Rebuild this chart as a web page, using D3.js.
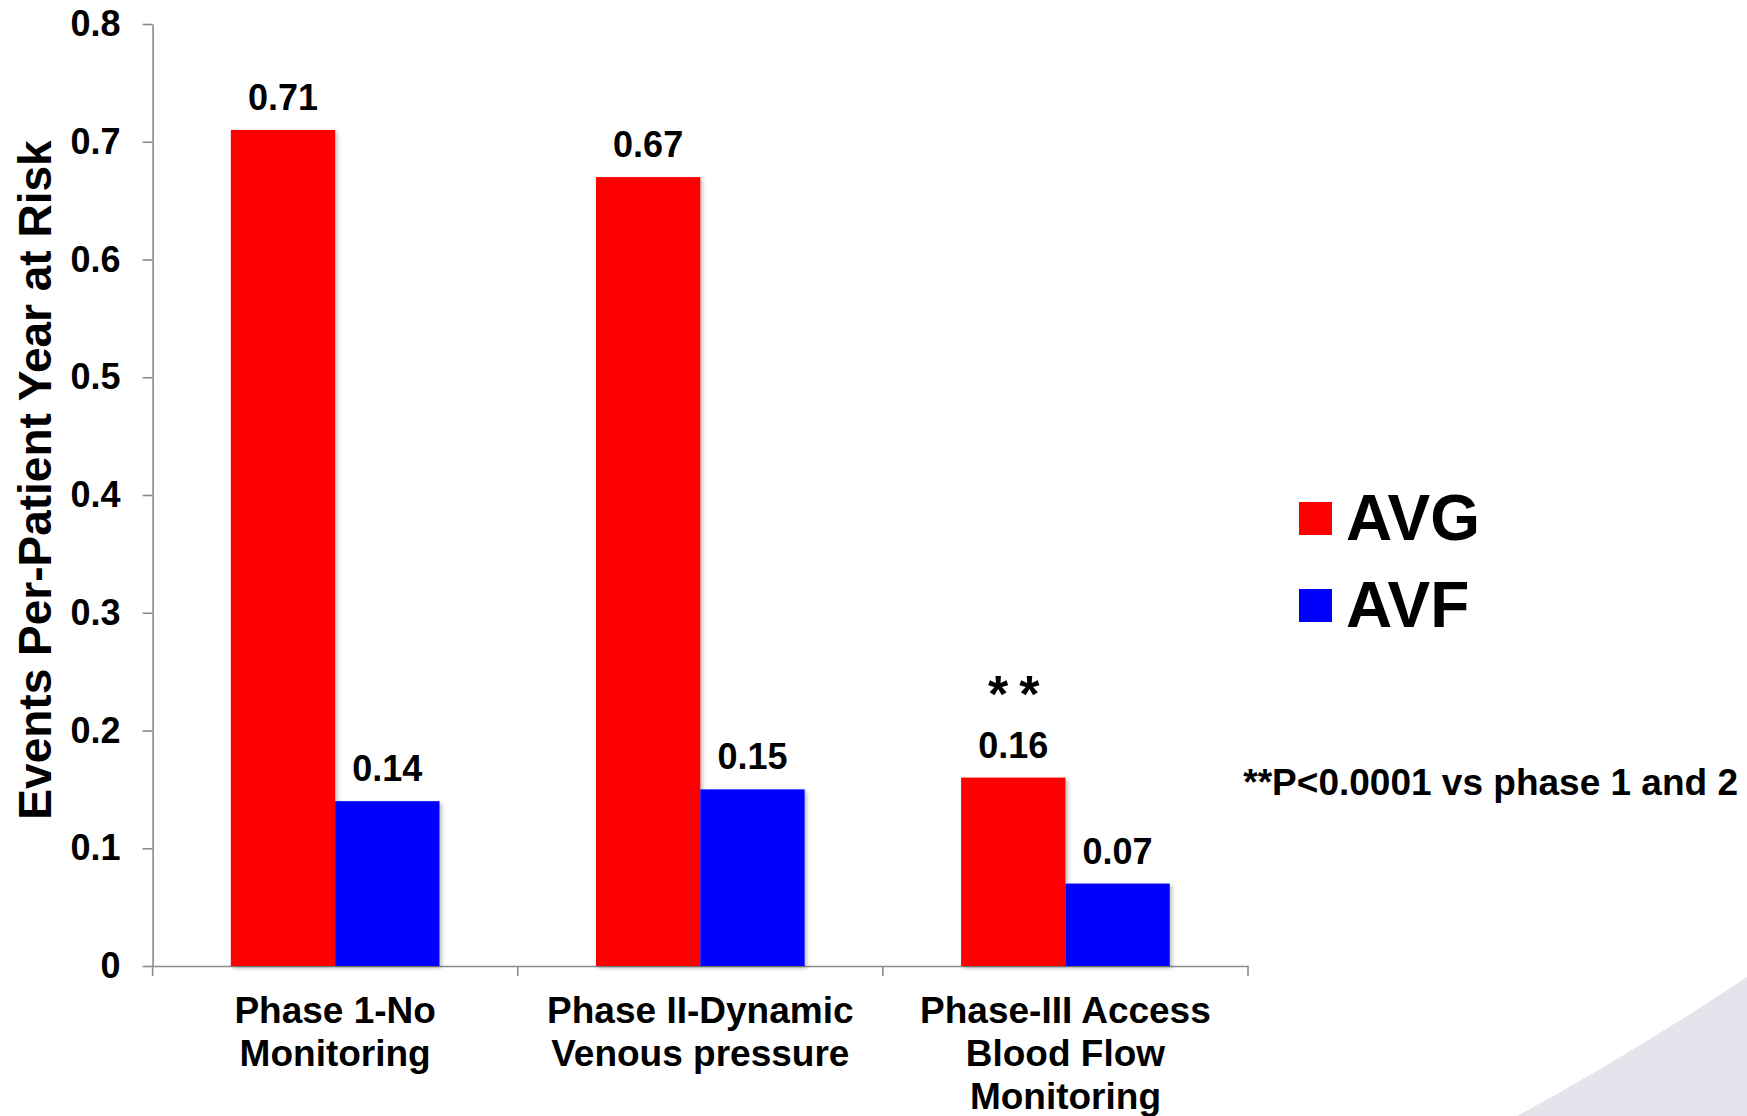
<!DOCTYPE html>
<html>
<head>
<meta charset="utf-8">
<script src="https://cdn.jsdelivr.net/npm/d3@7"></script>
<style>
  html, body { margin: 0; padding: 0; background: #ffffff; }
  svg { display: block; font-family: "Liberation Sans", Arial, sans-serif; font-weight: bold; }
</style>
</head>
<body>
<svg id="chart" width="1747" height="1116"></svg>
<script>
// Access events per patient-year, by monitoring phase
const categories = [
  ["Phase 1-No", "Monitoring"],
  ["Phase II-Dynamic", "Venous pressure"],
  ["Phase-III Access", "Blood Flow", "Monitoring"]
];
const seriesNames = ["AVG", "AVF"];
const seriesColors = ["#ff0000", "#0000ff"];
const avgValues = [0.71, 0.67, 0.16];
const avfValues = [0.14, 0.15, 0.07];
const yTicks = [0, 0.1, 0.2, 0.3, 0.4, 0.5, 0.6, 0.7, 0.8];
const yTitle = "Events Per-Patient Year at Risk";
const footnote = "**P<0.0001 vs phase 1 and 2";
const significance = ["", "", "**"];  // marker above the AVG bar of each phase

const svg = d3.select("#chart");
const axisColor = "#8a8a8a";

// decorative background swoosh, bottom right
svg.append("path")
  .attr("d", "M1517,1116 Q1628,1056 1747,977 L1747,1116 Z")
  .attr("fill", "#e4e4ec");

// soft shadow for the bars
const defs = svg.append("defs");
const f = defs.append("filter").attr("id", "barShadow")
  .attr("x", "-10%").attr("y", "-10%").attr("width", "130%").attr("height", "130%");
f.append("feDropShadow").attr("dx", 2).attr("dy", 2).attr("stdDeviation", 2)
  .attr("flood-color", "#000").attr("flood-opacity", 0.28);

const catKeys = categories.map(c => c.join(" "));
const x0 = d3.scaleBand().domain(catKeys).range([152.6, 1248]).padding(0);
const x1 = d3.scaleBand().domain(seriesNames).range([0, x0.bandwidth()])
  .paddingInner(0).paddingOuter(0.75);
const y = d3.scaleLinear().domain([0, 0.8]).range([966, 24]);
const color = d3.scaleOrdinal().domain(seriesNames).range(seriesColors);

const rows = catKeys.map((k, i) => ({
  key: k,
  sig: significance[i],
  values: [
    { series: "AVG", value: avgValues[i] },
    { series: "AVF", value: avfValues[i] }
  ]
}));

// y axis
const yAxis = svg.append("g").attr("transform", "translate(152.6,0)")
  .call(d3.axisLeft(y).tickValues(yTicks).tickSize(10).tickSizeOuter(0).tickPadding(22)
    .tickFormat(d => d === 0 ? "0" : d3.format(".1f")(d)));
yAxis.selectAll(".domain").attr("stroke", axisColor).attr("stroke-width", 1.6);
yAxis.selectAll(".tick line").attr("stroke", axisColor).attr("stroke-width", 1.6);
yAxis.selectAll(".tick text")
  .attr("fill", "#000").style("font-size", "36px").style("font-weight", "bold")
  .style("font-family", "'Liberation Sans', Arial, sans-serif");

// x axis line with ticks at category boundaries
const xAxis = svg.append("g").attr("transform", "translate(0,966)")
  .call(d3.axisBottom(x0).tickSize(0).tickSizeOuter(0).tickFormat(""));
xAxis.selectAll(".domain").attr("stroke", axisColor).attr("stroke-width", 1.6);
const bounds = catKeys.map(k => x0(k)).concat([x0.range()[1]]);
xAxis.selectAll("line.bound").data(bounds).enter().append("line")
  .attr("class", "bound")
  .attr("x1", d => d).attr("x2", d => d).attr("y1", 0).attr("y2", 10)
  .attr("stroke", axisColor).attr("stroke-width", 1.6);

// bars
const groups = svg.append("g").selectAll("g").data(rows).enter().append("g")
  .attr("transform", d => `translate(${x0(d.key)},0)`);
groups.selectAll("rect").data(d => d.values).enter().append("rect")
  .attr("x", d => x1(d.series))
  .attr("y", d => y(d.value))
  .attr("width", x1.bandwidth())
  .attr("height", d => y(0) - y(d.value))
  .attr("fill", d => color(d.series))
  .attr("filter", "url(#barShadow)");

// value labels
groups.selectAll("text.val").data(d => d.values).enter().append("text")
  .attr("class", "val")
  .attr("x", d => x1(d.series) + x1.bandwidth() / 2)
  .attr("y", d => y(d.value) - 20)
  .attr("text-anchor", "middle")
  .style("font-size", "36px")
  .text(d => d3.format(".2f")(d.value));

// significance marker above the AVG bar
groups.append("text")
  .attr("x", x1("AVG") + x1.bandwidth() / 2 + 6)
  .attr("y", d => y(d.values[0].value) - 66)
  .attr("text-anchor", "middle")
  .style("font-size", "52px")
  .style("letter-spacing", "11px")
  .text(d => d.sig);

// category labels
const catText = svg.append("g").selectAll("text").data(categories).enter().append("text")
  .attr("text-anchor", "middle")
  .style("font-size", "37px");
catText.selectAll("tspan").data((d, i) => d.map(line => ({ line, key: catKeys[i] }))).enter()
  .append("tspan")
  .attr("x", d => x0(d.key) + x0.bandwidth() / 2)
  .attr("y", (d, j) => 1023 + j * 43)
  .text(d => d.line);

// y axis title
svg.append("text")
  .attr("transform", "translate(51,480) rotate(-90)")
  .attr("text-anchor", "middle")
  .style("font-size", "46px")
  .text(yTitle);

// legend
const legend = svg.append("g").selectAll("g").data(seriesNames).enter().append("g")
  .attr("transform", (d, i) => `translate(1299,${502 + i * 87})`);
legend.append("rect").attr("width", 33).attr("height", 33).attr("fill", d => color(d));
legend.append("text").attr("x", 47).attr("y", 38).style("font-size", "64px").text(d => d);

// footnote
svg.append("text")
  .attr("x", 1738).attr("y", 795)
  .attr("text-anchor", "end")
  .style("font-size", "37px")
  .text(footnote);
</script>
</body>
</html>
